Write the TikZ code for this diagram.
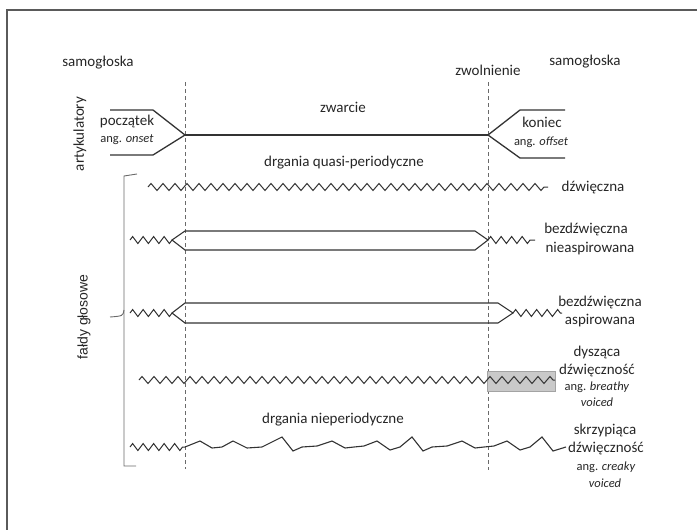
\documentclass[tikz,border=0pt]{standalone}
\usepackage{fontspec}
\setmainfont{Carlito}
\newfontfamily\arialfont{Liberation Sans}
\usetikzlibrary{decorations.pathmorphing}
\definecolor{inkline}{HTML}{333333}
\definecolor{inktext}{HTML}{262626}
\definecolor{guideline}{HTML}{6A6A6A}
\definecolor{frameline}{HTML}{5A5A5A}
\definecolor{shadefill}{HTML}{C9C9C9}
\definecolor{shadeedge}{HTML}{A3A3A3}

\begin{document}
\begin{tikzpicture}[x=1pt,y=-1pt,font=\fontsize{15}{17}\selectfont,text=inktext,
  lbl/.style={anchor=base,inner sep=0pt},
  eng/.style={lbl,font=\fontsize{12.5}{14}\selectfont},
  art/.style={inkline,line width=1.3pt,line join=miter},
  fold/.style={inkline,line width=1.1pt,line join=miter},
  vib/.style={inkline,line width=1pt,decorate,
    decoration={zigzag,segment length=12pt,amplitude=3.5pt}},
  vibshort/.style={inkline,line width=1pt,decorate,
    decoration={zigzag,segment length=10.5pt,amplitude=3.5pt}},
  guide/.style={guideline,line width=0.8pt,dash pattern=on 4pt off 3pt}]
  \useasboundingbox (0,0) rectangle (697,530);
  \draw[frameline,line width=1.5pt] (7,530) -- (7,10) -- (697,10);

  % moments: onset and release
  \coordinate (onset) at (185,82);
  \coordinate (release) at (488,82);
  \draw[guide] (onset) -- (185,469);
  \draw[guide] (release) -- (488,470);
  \node[lbl] (vowelL) at (98,66) {samogłoska};
  \node[lbl] (vowelR) at (585,65) {samogłoska};
  \node[lbl] (rel) at (488,75) {zwolnienie};

  % articulators
  \node[inner sep=0pt,rotate=90] (artic) at (80,134) {artykulatory};
  \draw[art] (110,110) -- (153,110) -- (185,135) -- (153,155) -- (110,155);
  \draw[art] (185,135) -- (488,135);
  \draw[art] (565,110) -- (520,110) -- (488,135) -- (520,158) -- (565,158);
  \node[lbl] (closure) at (343,112) {zwarcie};
  \node[lbl] (start) at (127,125) {początek};
  \node[eng] (startEn) at (127,142) {ang. \textit{onset}};
  \node[lbl] (stop) at (542,127) {koniec};
  \node[eng] (stopEn) at (541,145) {ang. \textit{offset}};
  \node[lbl] (quasi) at (344,166) {drgania quasi-periodyczne};

  % vocal folds
  \node[inner sep=0pt,rotate=90,font=\arialfont\fontsize{14}{16}\selectfont] (folds) at (84,317) {fałdy głosowe};
  \draw[guideline,line width=0.9pt] (137,174) -- (124,176) -- (124,466) -- (136,466);
  \draw[guideline,line width=0.9pt] (124,310) .. controls (123,316) .. (110,317);

  % voiced
  \draw[vib] (148,187) -- (548,187);
  \node[lbl] (voiced) at (593,191) {dźwięczna};

  % voiceless unaspirated
  \draw[vibshort] (130,240) -- (172,240);
  \draw[fold] (172,240) -- (185,231) -- (475,231) -- (488,240) -- (475,250) -- (185,250) -- cycle;
  \draw[vibshort] (488,240) -- (535,240);
  \node[lbl] (unasp) at (586,233) {bezdźwięczna};
  \node[lbl] (unaspB) at (590,252) {nieaspirowana};

  % voiceless aspirated
  \draw[vibshort] (130,313) -- (172,313);
  \draw[fold] (172,313) -- (185,303) -- (498,303) -- (513,313) -- (498,323) -- (185,323) -- cycle;
  \draw[vibshort] (513,313) -- (562,313);
  \node[lbl] (asp) at (600,306) {bezdźwięczna};
  \node[lbl] (aspB) at (600,324) {aspirowana};

  % breathy voice
  \draw[shadeedge,fill=shadefill,line width=0.8pt] (487,371) rectangle (555,391);
  \draw[vib] (139,380) -- (555,380);
  \node[lbl] (breathy) at (597,356) {dysząca};
  \node[lbl] (breathyB) at (597,374) {dźwięczność};
  \node[eng] (breathyC) at (597,390) {ang. \textit{breathy}};
  \node[eng] (breathyD) at (597,406) {\textit{voiced}};

  % creaky voice
  \node[lbl] (aperiod) at (333,423) {drgania nieperiodyczne};
  \draw[vibshort] (130,447) -- (185,447);
  \draw[inkline,line width=1.1pt,line join=miter,shift={(0,447)}] plot coordinates {
    (185,0) (200,-6) (212,1) (222,0) (233,-6) (247,1) (262,0) (282,-10)
    (293,4) (302,0) (317,-1) (332,-6) (345,1) (354,0) (364,-1) (377,-6)
    (390,3) (400,0) (412,-10) (423,4) (432,0) (447,-1) (462,-6) (475,1)
    (484,0) (494,-1) (507,-6) (520,3) (530,0) (542,-10) (553,4) (566,0)};
  \node[lbl] (creaky) at (605,434) {skrzypiąca};
  \node[lbl] (creakyB) at (606,452) {dźwięczność};
  \node[eng] (creakyC) at (606,470) {ang. \textit{creaky}};
  \node[eng] (creakyD) at (605,487) {\textit{voiced}};
\end{tikzpicture}
\end{document}
